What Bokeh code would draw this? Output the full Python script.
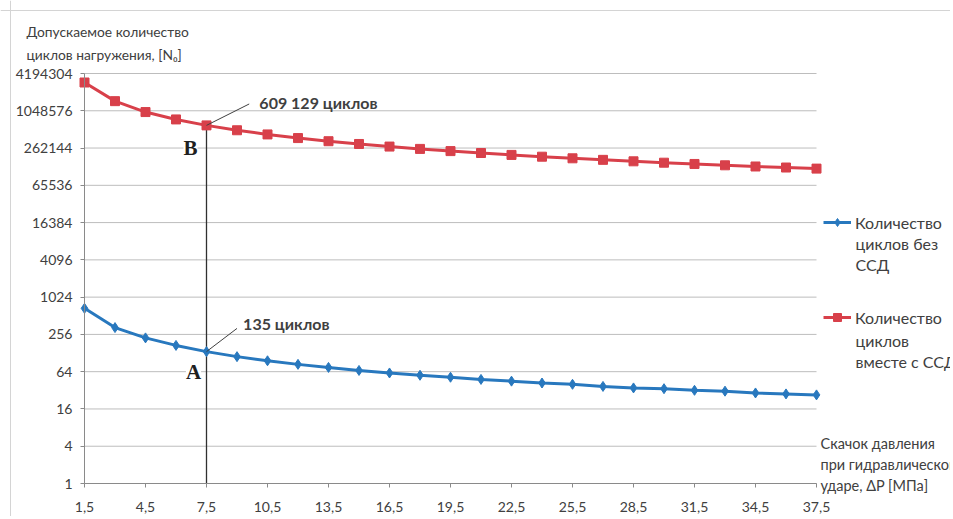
import math
from bokeh.plotting import figure
from bokeh.models import (Range1d, FixedTicker, Label, Legend, LegendItem,
                          LinearAxis, LogAxis, Span)
from bokeh.embed import file_html
from bokeh.resources import INLINE

# ---- data ----
dp = [1.5, 3, 4.5, 6, 7.5, 9, 10.5, 12, 13.5, 15, 16.5, 18, 19.5, 21, 22.5,
      24, 25.5, 27, 28.5, 30, 31.5, 33, 34.5, 36, 37.5]
cycles_no_ssd = [675, 330, 225, 170, 135, 112, 96, 84, 75, 67, 61, 56, 52, 48,
                 45, 42, 40, 37, 35, 34, 32, 31, 29, 28, 27]
cycles_ssd = [3000000, 1500000, 1000000, 760000, 609129, 508000, 435000, 380000,
              338000, 305000, 277000, 254000, 234000, 218000, 203000, 190000,
              179000, 169000, 160000, 152000, 145000, 138000, 132000, 127000, 122000]
x_ticks = [1.5, 4.5, 7.5, 10.5, 13.5, 16.5, 19.5, 22.5, 25.5, 28.5, 31.5, 34.5, 37.5]
x_tick_labels = ["1,5", "4,5", "7,5", "10,5", "13,5", "16,5", "19,5", "22,5",
                 "25,5", "28,5", "31,5", "34,5", "37,5"]
y_ticks = [1, 4, 16, 64, 256, 1024, 4096, 16384, 65536, 262144, 1048576, 4194304]
y_tick_labels = [str(v) for v in y_ticks]
series_first_line = ["Количество", "Количество"]
series_rest_lines = ["циклов без\nССД", "циклов\nвместе с ССД"]
y_title = "Допускаемое количество\nциклов нагружения, [N₀]"
x_title = "Скачок давления\nпри гидравлическом\nударе,  ΔP [МПа]"
marker_x = 7.5
marker_a = 135
marker_b = 609129
note_a = "135 циклов"
note_b = "609 129 циклов"
# leader line ends / note anchors (data units)
note_a_pos = (9.3, 384)
note_a_leader = (9.0, 320)
note_b_pos = (10.1, 1420000)
note_b_leader = (9.6, 1350000)

# ---- layout (pixels) ----
W, H = 950, 516
PX_LEFT, PX_RIGHT = 84, 816      # pixel of first / last x tick
PX_TOP, PX_BOTTOM = 73, 483      # pixel of top / bottom y tick
xmin, xmax = x_ticks[0], x_ticks[-1]
xs = (xmax - xmin) / (PX_RIGHT - PX_LEFT)
x_start = xmin - PX_LEFT * xs
x_end = xmax + (W - PX_RIGHT) * xs
lmin, lmax = math.log2(y_ticks[0]), math.log2(y_ticks[-1])
ls = (lmax - lmin) / (PX_BOTTOM - PX_TOP)
y_start = 2 ** (lmin - (H - PX_BOTTOM) * ls)
y_end = 2 ** (lmax + PX_TOP * ls)


def px_to_x(px):
    return xmin + (px - PX_LEFT) * xs


def py_to_y(py):
    return 2 ** (lmax - (py - PX_TOP) * ls)


FONT = "Lato"
TXT = "#404040"
BLUE = "#2878be"
RED = "#d8404a"
GRID = "#bdbdbd"
AXIS = "#8a8a8a"

p = figure(width=W, height=H, output_backend="svg", toolbar_location=None,
           y_axis_type="log", x_axis_location=None, y_axis_location=None,
           x_range=Range1d(x_start, x_end), y_range=Range1d(y_start, y_end),
           min_border=0)
p.outline_line_color = None
p.xgrid.visible = False
p.ygrid.visible = False
p.background_fill_color = "white"
p.border_fill_color = "white"

# chart-area border (top & left)
p.add_layout(Span(location=py_to_y(10), dimension="width",
                  line_color="#d4d4d4", line_width=1))
p.add_layout(Span(location=px_to_x(10), dimension="height",
                  line_color="#d4d4d4", line_width=1))

# horizontal gridlines between first and last x
p.segment(x0=[xmin] * len(y_ticks), x1=[xmax] * len(y_ticks),
          y0=y_ticks, y1=y_ticks, line_color=GRID, line_width=1)

# axes pinned to data positions
xa = LinearAxis(fixed_location=y_ticks[0], bounds=(xmin, xmax),
                ticker=FixedTicker(ticks=x_ticks))
xa.major_label_overrides = {t: l for t, l in zip(x_ticks, x_tick_labels)}
ya = LogAxis(fixed_location=xmin, bounds=(y_ticks[0], y_ticks[-1]),
             ticker=FixedTicker(ticks=y_ticks))
ya.major_label_overrides = {t: l for t, l in zip(y_ticks, y_tick_labels)}
for ax in (xa, ya):
    ax.axis_line_color = AXIS
    ax.major_tick_line_color = AXIS
    ax.major_tick_in = 0
    ax.major_tick_out = 4
    ax.minor_tick_line_color = None
    ax.major_label_text_font = FONT
    ax.major_label_text_font_size = "14px"
    ax.major_label_text_color = TXT
xa.major_label_standoff = 14
ya.major_label_standoff = 8
p.add_layout(xa, "below")
p.add_layout(ya, "left")

# vertical marker line
p.segment(x0=[marker_x], y0=[y_ticks[0]], x1=[marker_x], y1=[marker_b],
          line_color="#303030", line_width=1.3)

# series
l1 = p.line(dp, cycles_no_ssd, line_color=BLUE, line_width=3)
s1 = p.scatter(dp, cycles_no_ssd, marker="diamond", size=10,
               fill_color=BLUE, line_color=BLUE)
l2 = p.line(dp, cycles_ssd, line_color=RED, line_width=3)
s2 = p.scatter(dp, cycles_ssd, marker="square", size=9,
               fill_color=RED, line_color=RED)

# leader lines + notes
p.segment(x0=[marker_x, marker_x], y0=[marker_a, marker_b],
          x1=[note_a_leader[0], note_b_leader[0]],
          y1=[note_a_leader[1], note_b_leader[1]],
          line_color="#404040", line_width=1)
p.add_layout(Label(x=note_a_pos[0], y=note_a_pos[1], text=note_a, text_font=FONT,
                   text_font_style="bold", text_font_size="16px",
                   text_color=TXT, text_baseline="middle"))
p.add_layout(Label(x=note_b_pos[0], y=note_b_pos[1], text=note_b, text_font=FONT,
                   text_font_style="bold", text_font_size="16px",
                   text_color=TXT, text_baseline="middle"))
p.add_layout(Label(x=marker_x, y=64, x_offset=-13, text="A",
                   text_font="Liberation Serif", text_font_style="bold",
                   text_font_size="21px", text_color="#202020",
                   text_align="center", text_baseline="middle",
                   background_fill_color="white"))
p.add_layout(Label(x=marker_x, y=262144, x_offset=-16, text="B",
                   text_font="Liberation Serif", text_font_style="bold",
                   text_font_size="21px", text_color="#202020",
                   text_align="center", text_baseline="middle",
                   background_fill_color="white"))

# axis titles
p.add_layout(Label(x=px_to_x(26), y=py_to_y(22), text=y_title,
                   text_font=FONT, text_font_size="13.8px", text_color=TXT,
                   text_align="left", text_baseline="top",
                   text_line_height=1.4))
p.add_layout(Label(x=px_to_x(820), y=py_to_y(434), text=x_title,
                   text_font=FONT, text_font_size="14.5px", text_color=TXT,
                   text_align="left", text_baseline="top",
                   text_line_height=1.25))

# legend (first line of each entry) + continuation lines
legend = Legend(items=[LegendItem(label=series_first_line[0], renderers=[l1, s1]),
                       LegendItem(label=series_first_line[1], renderers=[l2, s2])],
                location=(823, H - 328), spacing=73, padding=0, margin=0,
                glyph_width=28, glyph_height=20, label_standoff=4,
                label_height=22,
                label_text_font=FONT, label_text_font_size="16px",
                label_text_color=TXT,
                border_line_color=None, background_fill_alpha=0)
p.add_layout(legend, "center")
for rest, ptop in zip(series_rest_lines, [233, 330]):
    p.add_layout(Label(x=px_to_x(855), y=py_to_y(ptop), text=rest,
                       text_font=FONT, text_font_size="16px", text_color=TXT,
                       text_align="left", text_baseline="top",
                       text_line_height=1.12))

open("out.html", "w").write(file_html(p, INLINE))
